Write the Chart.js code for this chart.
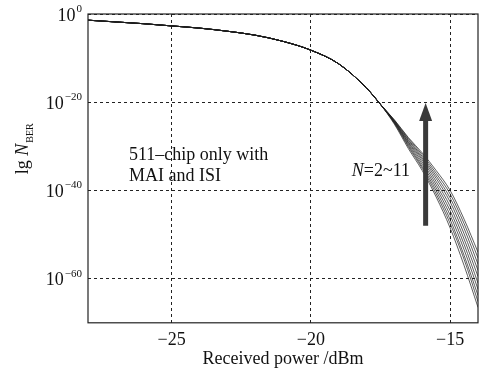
<!DOCTYPE html>
<html lang="en">
<head>
  <meta charset="UTF-8" />
  <title>BER vs received power</title>
  <script src="https://cdn.jsdelivr.net/npm/chart.js"></script>
  <style>
    html, body { margin: 0; padding: 0; background: #fff; }
    #wrap { width: 486px; height: 372px; }
  </style>
</head>
<body>
<div id="wrap"><canvas id="berChart"></canvas></div>
<script>
  // received power (dBm) sample points
  const powerDbm = [-28, -27, -26, -25, -24, -23, -22, -21, -20, -19, -18, -17.5,
                    -17, -16.5, -16, -15.5, -15, -14.5, -14];

  // lg(BER) shared by all N before the curves split apart
  const sharedLogBer = [-1.4, -1.8, -2.2, -2.7, -3.2, -3.9, -4.8, -6.2, -8.2, -11.3, -16.8, -20.5];

  // lg(BER) after the split, from -17 dBm to -14 dBm, one list per user count N
  const tailN2  = [-25.0, -30.5, -35.5, -41.5, -48.5, -57.0, -66.5];
  const tailN3  = [-24.8, -30.1, -35.0, -40.8, -47.5, -55.6, -65.2];
  const tailN4  = [-24.7, -29.8, -34.6, -40.1, -46.6, -54.7, -63.8];
  const tailN5  = [-24.6, -29.5, -34.1, -39.4, -45.6, -53.4, -62.4];
  const tailN6  = [-24.5, -29.2, -33.6, -38.7, -44.6, -52.2, -61.0];
  const tailN7  = [-24.4, -29.0, -33.1, -38.0, -43.6, -51.0, -59.5];
  const tailN8  = [-24.3, -28.7, -32.7, -37.3, -42.6, -49.8, -58.1];
  const tailN9  = [-24.2, -28.5, -32.3, -36.7, -41.7, -48.6, -56.7];
  const tailN10 = [-24.1, -28.2, -31.9, -36.1, -40.8, -47.5, -55.3];
  const tailN11 = [-24.0, -28.0, -31.5, -35.5, -40.0, -46.5, -54.0];

  const tails = [tailN2, tailN3, tailN4, tailN5, tailN6, tailN7, tailN8, tailN9, tailN10, tailN11];
  const userCounts = [2, 3, 4, 5, 6, 7, 8, 9, 10, 11];

  const xTicks = [-25, -20, -15];
  const yTicks = [0, -20, -40, -60];   // exponents of 10

  const SERIF = '"Liberation Serif", "DejaVu Serif", serif';

  const datasets = tails.map((tail, i) => ({
    label: 'N=' + userCounts[i],
    data: sharedLogBer.concat(tail).map((v, j) => ({ x: powerDbm[j], y: v })),
    borderColor: 'rgba(30,30,30,0.9)',
    borderWidth: 0.8,
    pointRadius: 0,
    cubicInterpolationMode: 'monotone',
    fill: false
  }));

  // frame, 10^n tick labels, y title, text notes and the arrow
  const decor = {
    id: 'decor',
    afterDraw(chart) {
      const { ctx, chartArea: a, scales } = chart;
      const xs = scales.x, ys = scales.y;
      ctx.save();

      ctx.strokeStyle = '#222';
      ctx.lineWidth = 1.2;
      ctx.strokeRect(a.left, a.top, a.right - a.left, a.bottom - a.top);

      ctx.fillStyle = '#111';
      ctx.textBaseline = 'middle';
      yTicks.forEach(t => {
        const py = ys.getPixelForValue(t) + 2;
        const sup = t === 0 ? '0' : '\u2212' + Math.abs(t);
        ctx.font = '11px ' + SERIF;
        const supW = ctx.measureText(sup).width;
        ctx.textAlign = 'right';
        ctx.fillText(sup, a.left - 6, py - 7);
        ctx.font = '18px ' + SERIF;
        ctx.fillText('10', a.left - 7 - supW, py);
      });

      // y title: lg N_BER, reading upward
      ctx.translate(28, 146);
      ctx.rotate(-Math.PI / 2);
      ctx.textAlign = 'left';
      ctx.textBaseline = 'alphabetic';
      ctx.font = '18px ' + SERIF;
      const lgW = ctx.measureText('lg ').width;
      ctx.font = 'italic 18px ' + SERIF;
      const nW = ctx.measureText('N').width;
      const total = lgW + nW + 26;
      ctx.font = '18px ' + SERIF;
      ctx.fillText('lg ', -total / 2, 0);
      ctx.font = 'italic 18px ' + SERIF;
      ctx.fillText('N', -total / 2 + lgW, 0);
      ctx.font = '10px ' + SERIF;
      ctx.fillText('BER', -total / 2 + lgW + nW + 1, 5);
      ctx.setTransform(1, 0, 0, 1, 0, 0);

      // notes inside the plot
      ctx.font = '18px ' + SERIF;
      ctx.textAlign = 'left';
      ctx.textBaseline = 'middle';
      ctx.fillText('511\u2013chip only with', 129, 155);
      ctx.fillText('MAI and ISI', 129, 176);

      ctx.font = 'italic 18px ' + SERIF;
      const nPart = ctx.measureText('N').width;
      ctx.font = '18px ' + SERIF;
      const rest = '=2~11';
      const restW = ctx.measureText(rest).width;
      const nx = 410 - restW - nPart;
      ctx.font = 'italic 18px ' + SERIF;
      ctx.fillText('N', nx, 171);
      ctx.font = '18px ' + SERIF;
      ctx.fillText(rest, nx + nPart, 171);

      // arrow showing growing N
      const ax = xs.getPixelForValue(-15.88);
      const yBottom = ys.getPixelForValue(-48);
      const yTip = ys.getPixelForValue(-20.2);
      ctx.fillStyle = '#3a3a3a';
      ctx.fillRect(ax - 2.5, yTip + 16, 5, yBottom - yTip - 16);
      ctx.beginPath();
      ctx.moveTo(ax, yTip);
      ctx.lineTo(ax - 6.5, yTip + 18);
      ctx.lineTo(ax + 6.5, yTip + 18);
      ctx.closePath();
      ctx.fill();

      ctx.restore();
    }
  };

  new Chart(document.getElementById('berChart'), {
    type: 'line',
    data: { datasets },
    plugins: [decor],
    options: {
      responsive: true,
      maintainAspectRatio: false,
      animation: false,
      layout: { padding: { left: 88, right: 8, top: 14, bottom: 0 } },
      plugins: { legend: { display: false }, tooltip: { enabled: false } },
      scales: {
        x: {
          type: 'linear',
          min: -28,
          max: -14,
          afterBuildTicks: s => { s.ticks = xTicks.map(v => ({ value: v })); },
          grid: {
            color: '#222',
            lineWidth: 1,
            drawTicks: false
          },
          border: { display: false, dash: [3, 3] },
          ticks: {
            color: '#111',
            padding: 7,
            font: { family: SERIF, size: 18 },
            callback: v => '\u2212' + Math.abs(v)
          },
          title: {
            display: true,
            text: 'Received power /dBm',
            color: '#111',
            font: { family: SERIF, size: 18 },
            padding: { top: -10, bottom: 2 }
          }
        },
        y: {
          type: 'linear',
          min: -70,
          max: 0,
          afterBuildTicks: s => { s.ticks = yTicks.map(v => ({ value: v })); },
          grid: {
            color: '#222',
            lineWidth: 1,
            drawTicks: false
          },
          border: { display: false, dash: [3, 3] },
          ticks: { display: false }
        }
      }
    }
  });
</script>
</body>
</html>
